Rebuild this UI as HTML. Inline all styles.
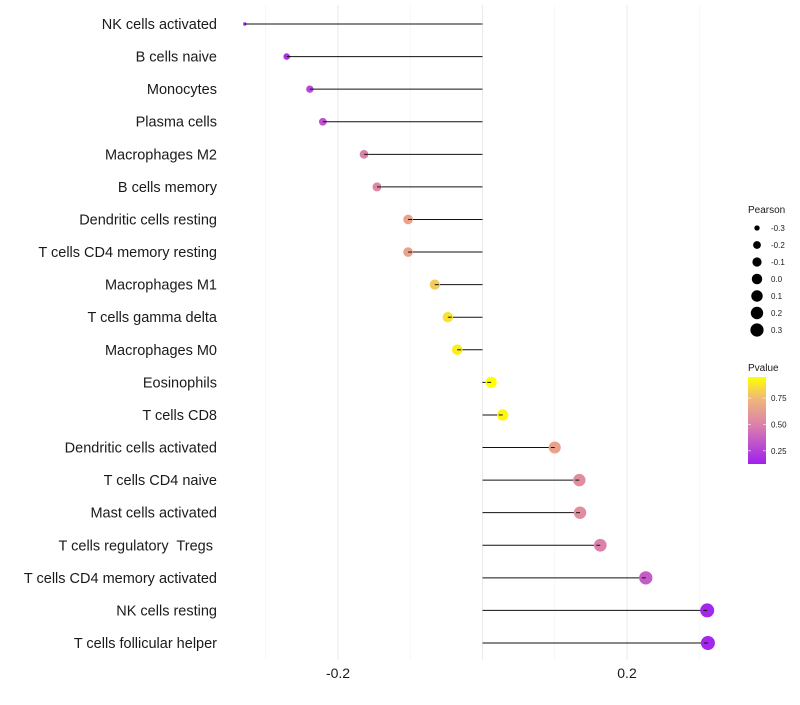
<!DOCTYPE html>
<html><head><meta charset="utf-8"><style>
body{margin:0;background:#fff;font-family:"Liberation Sans",sans-serif}
text{white-space:pre}
</style></head><body>
<svg id="chart" width="800" height="700"></svg>
<script>
const categories=["NK cells activated","B cells naive","Monocytes","Plasma cells","Macrophages M2","B cells memory","Dendritic cells resting","T cells CD4 memory resting","Macrophages M1","T cells gamma delta","Macrophages M0","Eosinophils","T cells CD8","Dendritic cells activated","T cells CD4 naive","Mast cells activated","T cells regulatory  Tregs ","T cells CD4 memory activated","NK cells resting","T cells follicular helper"];
const pearson=[-0.329,-0.271,-0.239,-0.221,-0.164,-0.146,-0.103,-0.103,-0.066,-0.048,-0.035,0.012,0.028,0.100,0.134,0.135,0.163,0.226,0.311,0.312];
const pvalue=[0.15,0.2,0.28,0.32,0.5,0.52,0.65,0.65,0.8,0.87,0.9,0.95,0.92,0.65,0.55,0.55,0.5,0.35,0.15,0.15];
const xTicks=[-0.2,0.2];
const xTickLabels=["-0.2","0.2"];
const gridMajor=[-0.2,0,0.2];
const minorTicks=[-0.3,-0.1,0.1,0.3];
const legendSizes=[-0.3,-0.2,-0.1,0.0,0.1,0.2,0.3];
const legendP=[0.75,0.50,0.25];

const svg=document.getElementById('chart');
const NS='http://www.w3.org/2000/svg';
function mk(t,a,p){const e=document.createElementNS(NS,t);for(const k in a)e.setAttribute(k,a[k]);(p||svg).appendChild(e);return e;}
const x=v=>482.5+v*722.5;
const y=i=>24+i*(643-24)/19;
const r=v=>{const t=Math.max(0,Math.min(1,(v+0.329)/0.641));return 1.7+5.3*Math.sqrt(t);};
const stops=[[0.125,[160,32,240]],[0.5,[220,130,170]],[0.75,[240,185,120]],[0.95,[255,255,0]]];
function col(p){p=Math.max(0.125,Math.min(0.95,p));for(let i=0;i<stops.length-1;i++){const a=stops[i],b=stops[i+1];if(p<=b[0]){const t=(p-a[0])/(b[0]-a[0]);return 'rgb('+a[1].map((c,j)=>Math.round(c+(b[1][j]-c)*t)).join(',')+')';}}return 'rgb(255,255,0)';}

minorTicks.forEach(v=>{const g=mk('line',{x1:x(v),x2:x(v),y1:5,y2:660,stroke:'#f2f2f2','stroke-width':0.6});

});
gridMajor.forEach(v=>{const g=mk('line',{x1:x(v),x2:x(v),y1:5,y2:660,stroke:'#ebebeb','stroke-width':1.1});

});
xTicks.forEach((v,i)=>{
const t=mk('text',{x:x(v),y:678,'text-anchor':'middle','font-size':14,fill:'#1a1a1a'});t.textContent=xTickLabels[i];

});

categories.forEach((c,i)=>{
const t=mk('text',{x:217,y:y(i)+5,'text-anchor':'end','font-size':14.5,fill:'#1a1a1a'});t.textContent=c;


const l=mk('line',{x1:x(0),x2:x(pearson[i]),y1:y(i),y2:y(i),stroke:'#111','stroke-width':1});


const d=mk('circle',{cx:x(pearson[i]),cy:y(i),r:r(pearson[i]),fill:col(pvalue[i])});


mk('line',{x1:x(pearson[i]),x2:x(pearson[i])+(pearson[i]<0?4:-4),y1:y(i),y2:y(i),stroke:'#111','stroke-width':1});
});

const lg=mk('text',{x:748,y:213,'font-size':10,fill:'#1a1a1a'});lg.textContent='Pearson';


legendSizes.forEach((v,i)=>{const cy=228+i*17;
const c=mk('circle',{cx:757,cy:cy,r:Math.max(2.5,r(v)*0.95),fill:'#000'});


const t=mk('text',{x:771,y:cy+3,'font-size':8,fill:'#1a1a1a'});t.textContent=v.toFixed(1);

});

const pt=mk('text',{x:748,y:371,'font-size':10,fill:'#1a1a1a'});pt.textContent='Pvalue';


const defs=mk('defs',{});const gr=mk('linearGradient',{id:'pg',x1:0,y1:1,x2:0,y2:0},defs);
stops.forEach(s=>mk('stop',{offset:((s[0]-0.125)/0.825),'stop-color':col(s[0])},gr));
const bar=mk('rect',{x:748,y:377,width:18,height:87,fill:'url(#pg)'});


legendP.forEach(p=>{const cy=464-(p-0.125)/0.825*87;
mk('line',{x1:748,x2:751,y1:cy,y2:cy,stroke:'#fff','stroke-width':0.6});mk('line',{x1:763,x2:766,y1:cy,y2:cy,stroke:'#fff','stroke-width':0.6});
const t=mk('text',{x:771,y:cy+3,'font-size':8,fill:'#1a1a1a'});t.textContent=p.toFixed(2);

});
</script>
</body></html>
